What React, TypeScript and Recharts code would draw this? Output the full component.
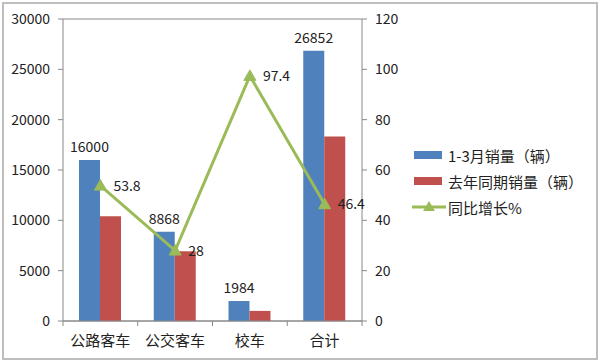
import React from "react";
import {
  ComposedChart,
  Bar,
  Line,
  XAxis,
  YAxis,
  CartesianGrid,
  Legend,
  LabelList,
} from "recharts";

const categories = ["公路客车", "公交客车", "校车", "合计"];
const salesQ1 = [16000, 8868, 1984, 26852];
const salesLastYear = [10400, 6930, 1005, 18340];
const growth = [53.8, 28, 97.4, 46.4];
const leftTicks = [0, 5000, 10000, 15000, 20000, 25000, 30000];
const rightTicks = [0, 20, 40, 60, 80, 100, 120];
const seriesNames = ["1-3月销量（辆）", "去年同期销量（辆）", "同比增长%"];

const data = categories.map((c, i) => ({
  name: c,
  a: salesQ1[i],
  b: salesLastYear[i],
  g: growth[i],
}));

const BLUE = "#4F81BD";
const RED = "#C0504D";
const GREEN = "#9BBB59";
const GRID = "#888888";
const FONT = "'Noto Sans CJK SC', 'Noto Sans', sans-serif";

const W = 600;
const H = 361;
const M = { top: 19, right: 178, bottom: 10, left: 0 };
const LEFT_W = 63;
const RIGHT_W = 60;
const plotW = W - M.left - M.right - LEFT_W - RIGHT_W;
const halfBand = plotW / categories.length / 2;

const Triangle = (props: any) => {
  const { cx, cy } = props;
  if (cx == null || cy == null) return null;
  return (
    <path
      d={`M${cx},${cy - 6} L${cx + 6},${cy + 4.5} L${cx - 6},${cy + 4.5} Z`}
      fill={GREEN}
      stroke={GREEN}
    />
  );
};

const XTick = (props: any) => {
  const { x, y, payload, index } = props;
  const top = y - 8;
  return (
    <g>
      <line x1={x - halfBand} y1={top} x2={x - halfBand} y2={top + 5} stroke={GRID} />
      {index === categories.length - 1 && (
        <line x1={x + halfBand} y1={top} x2={x + halfBand} y2={top + 5} stroke={GRID} />
      )}
      <text
        x={x}
        y={top + 25}
        textAnchor="middle"
        fontSize={15}
        fontFamily={FONT}
        fill="#222"
      >
        {payload.value}
      </text>
    </g>
  );
};

const LegendContent = () => (
  <div style={{ fontFamily: FONT, fontSize: 15, color: "#222" }}>
    {[0, 1, 2].map((i) => (
      <div
        key={i}
        style={{ display: "flex", alignItems: "center", height: 26 }}
      >
        <svg width={34} height={14} style={{ marginRight: 2 }}>
          {i < 2 ? (
            <rect x={2} y={3} width={28} height={8} fill={i === 0 ? BLUE : RED} />
          ) : (
            <g>
              <line x1={0} y1={7} x2={34} y2={7} stroke={GREEN} strokeWidth={3} />
              <path d="M17,1 L23,11 L11,11 Z" fill={GREEN} />
            </g>
          )}
        </svg>
        <span>{seriesNames[i]}</span>
      </div>
    ))}
  </div>
);

export default function App() {
  return (
    <div
      style={{
        position: "absolute",
        left: 0,
        top: 0,
        width: W,
        height: H,
        background: "#fff",
      }}
    >
      <div
        style={{
          position: "absolute",
          left: 2,
          top: 2,
          width: 592,
          height: 354,
          border: "2px solid #BEBEBE",
        }}
      />
      <ComposedChart
        width={W}
        height={H}
        data={data}
        margin={M}
        barGap={0}
        barSize={21}
      >
        <CartesianGrid vertical={false} stroke={GRID} />
        <XAxis
          dataKey="name"
          height={30}
          axisLine={{ stroke: GRID }}
          tickLine={false}
          tick={<XTick />}
          interval={0}
        />
        <YAxis
          yAxisId="left"
          width={LEFT_W}
          domain={[0, 30000]}
          ticks={leftTicks}
          axisLine={{ stroke: GRID }}
          tickLine={{ stroke: GRID }}
          tickSize={5}
          tickMargin={8}
          tick={{ fontSize: 14, fontFamily: FONT, fill: "#222" }}
        />
        <YAxis
          yAxisId="right"
          orientation="right"
          width={RIGHT_W}
          domain={[0, 120]}
          ticks={rightTicks}
          axisLine={{ stroke: GRID }}
          tickLine={{ stroke: GRID }}
          tickSize={5}
          tickMargin={8}
          tick={{ fontSize: 14, fontFamily: FONT, fill: "#222" }}
        />
        <Legend
          layout="horizontal"
          verticalAlign="middle"
          align="center"
          content={<LegendContent />}
          wrapperStyle={{ left: 412, top: 142, width: 180 }}
        />
        <Bar yAxisId="left" dataKey="a" name={seriesNames[0]} fill={BLUE} isAnimationActive={false}>
          <LabelList
            dataKey="a"
            position="top"
            offset={8}
            style={{ fontSize: 14, fontFamily: FONT, fill: "#222" }}
          />
        </Bar>
        <Bar yAxisId="left" dataKey="b" name={seriesNames[1]} fill={RED} isAnimationActive={false} />
        <Line
          yAxisId="right"
          dataKey="g"
          name={seriesNames[2]}
          stroke={GREEN}
          strokeWidth={3}
          dot={<Triangle />}
          activeDot={false}
          isAnimationActive={false}
        >
          <LabelList
            dataKey="g"
            position="right"
            offset={13}
            style={{ fontSize: 14, fontFamily: FONT, fill: "#222" }}
          />
        </Line>
      </ComposedChart>
    </div>
  );
}
